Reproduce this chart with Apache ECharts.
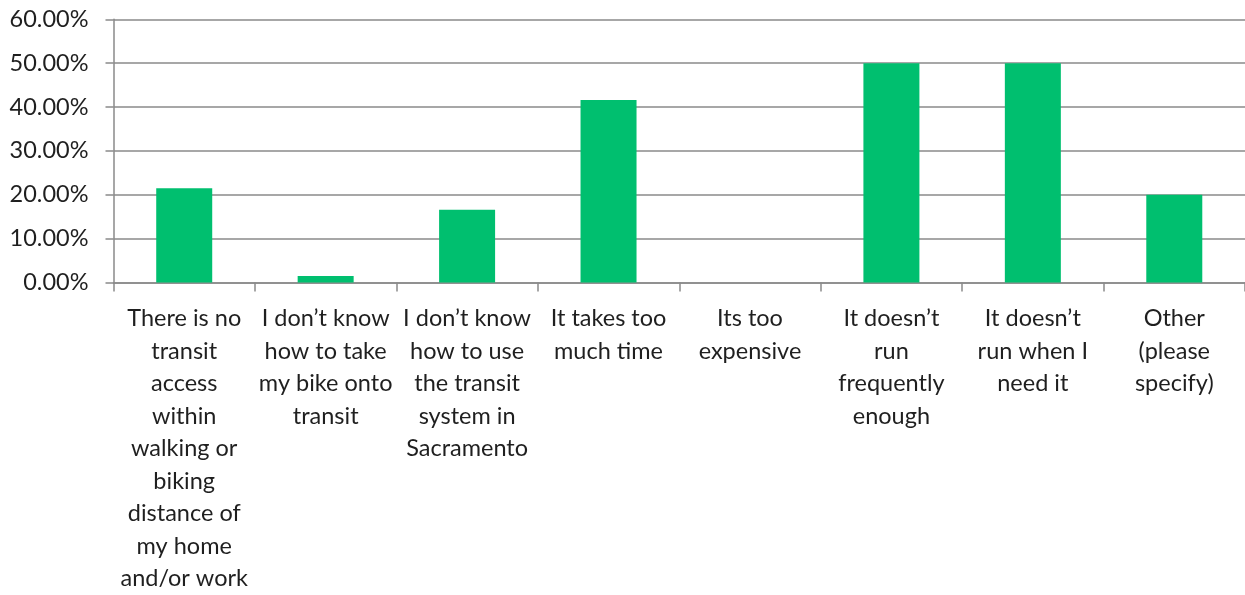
<!DOCTYPE html>
<html>
<head>
<meta charset="utf-8">
<script src="https://cdn.jsdelivr.net/npm/echarts@6/dist/echarts.min.js"></script>
<style>
  html, body { margin: 0; padding: 0; background: #fff; }
  #chart { width: 1245px; height: 595px; }
</style>
</head>
<body>
<div id="chart"></div>
<script>
// Reasons given for not using transit (share of respondents)
const categories = [
  "There is no\ntransit\naccess\nwithin\nwalking or\nbiking\ndistance of\nmy home\nand/or work",
  "I don\u2019t know\nhow to take\nmy bike onto\ntransit",
  "I don\u2019t know\nhow to use\nthe transit\nsystem in\nSacramento",
  "It takes too\nmuch time",
  "Its too\nexpensive",
  "It doesn\u2019t\nrun\nfrequently\nenough",
  "It doesn\u2019t\nrun when I\nneed it",
  "Other\n(please\nspecify)"
];
const shares = [21.5, 1.5, 16.6, 41.6, 0, 50, 50, 20];
const yTicks = { min: 0, max: 60, step: 10 };

const chart = echarts.init(document.getElementById('chart'), null, { renderer: 'canvas' });
const textColor = '#1f1f1f';
const lineColor = '#8a8a8a';
const fontFamily = 'Lato, "Open Sans", sans-serif';

chart.setOption({
  animation: false,
  grid: { left: 113.5, top: 19.3, width: 1136, height: 267.4, containLabel: false },
  xAxis: {
    type: 'category',
    data: categories,
    axisLine: { lineStyle: { color: lineColor, width: 1.5 } },
    axisTick: { show: true, length: 9, alignWithLabel: false, lineStyle: { color: lineColor, width: 1.5 } },
    axisLabel: {
      interval: 0,
      color: textColor,
      fontFamily: fontFamily,
      fontSize: 23.5,
      lineHeight: 32.5,
      margin: 20,
      align: 'center'
    },
    splitLine: { show: false }
  },
  yAxis: {
    type: 'value',
    min: yTicks.min,
    max: yTicks.max,
    interval: yTicks.step,
    axisLine: { show: true, lineStyle: { color: lineColor, width: 1.5 } },
    axisTick: { show: true, length: 8, lineStyle: { color: lineColor, width: 1.5 } },
    axisLabel: {
      color: textColor,
      fontFamily: fontFamily,
      fontSize: 23.5,
      margin: 25,
      formatter: v => v.toFixed(2) + '%'
    },
    splitLine: { show: true, lineStyle: { color: lineColor, width: 1.5 } }
  },
  series: [{
    type: 'bar',
    data: shares,
    barWidth: 56,
    itemStyle: { color: '#00bf6f' }
  }]
});
</script>
</body>
</html>
